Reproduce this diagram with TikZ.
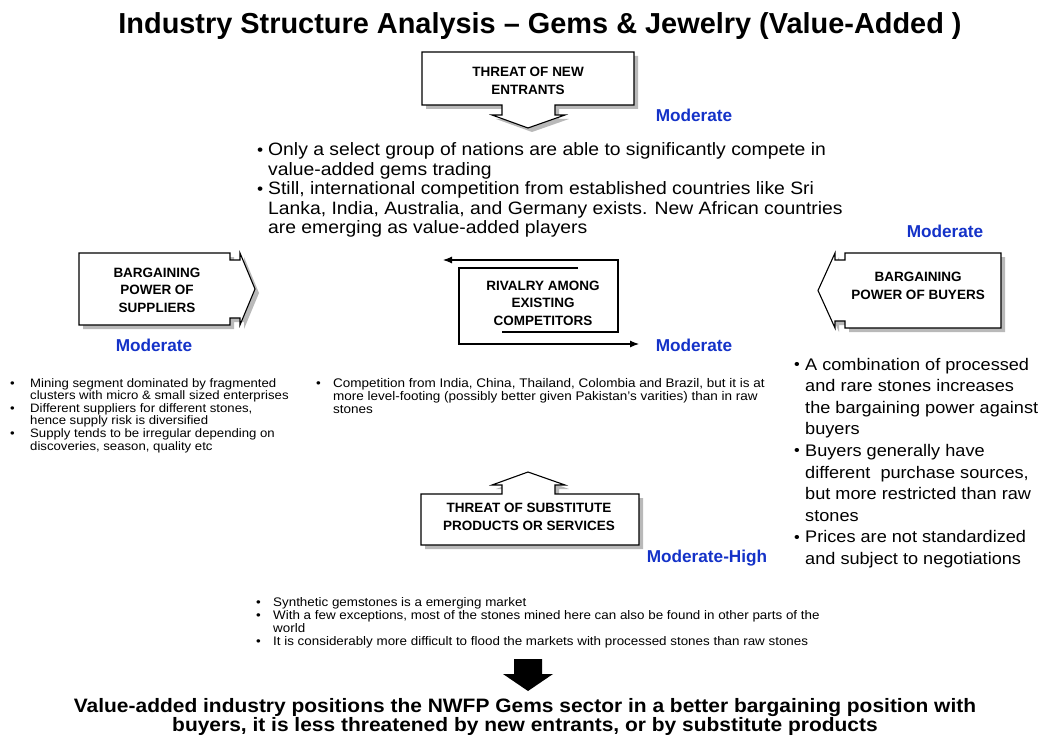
\documentclass[tikz,border=0pt]{standalone}
\usepackage{fontspec}
\usepackage{graphicx}
\setmainfont{Liberation Sans}
\newfontfamily\notefont[FakeStretch=1.08]{Liberation Sans}
\usetikzlibrary{arrows.meta}
\definecolor{ratingblue}{RGB}{20,50,200}
\definecolor{shadowgray}{RGB}{185,185,185}
% bullets with fixed hang (slightly reduced dot for the larger note text), and the continuation indent
\newcommand\bulitem[1]{\makebox[#1][l]{\raisebox{0.03em}{\scalebox{0.9}{\textbullet}}}}
\newcommand\bulsmall[1]{\makebox[#1][l]{\textbullet}}
\newcommand\bulcont[1]{\hspace*{#1}}
\begin{document}
\begin{tikzpicture}[x=1pt,y=-1pt,
  forcebox/.style={draw=black,line width=1.1pt,fill=white,line join=miter},
  forceshadow/.style={fill=shadowgray,draw=none},
  forcelabel/.style={font=\bfseries\fontsize{13.5}{17.5}\selectfont,align=center,inner sep=0},
  rating/.style={font=\bfseries\fontsize{17.2}{19}\selectfont,text=ratingblue,inner sep=0},
  notes/.style={anchor=base west,inner sep=0},
  rivalarrow/.style={line width=1.1pt,-{Latex[length=9pt,width=7pt]}}]
\useasboundingbox (0,0) rectangle (1049,738);

% title
\node[font=\bfseries\fontsize{28.9}{32}\selectfont,inner sep=0] (title) at (540,26) {Industry Structure Analysis – Gems \& Jewelry (Value-Added )};

% threat of new entrants: callout pointing down
\foreach \s/\st in {4/forceshadow,0/forcebox}{
  \path[\st,shift={(\s,\s)}] (422,52) -- (634,52) -- (634,105) -- (555,105) -- (555,115) -- (565,115)
    -- (528,128) -- (492,115) -- (502,115) -- (502,105) -- (422,105) -- cycle;}
\node[forcelabel] (entrants) at (528,81) {THREAT OF NEW\\ENTRANTS};
\node[rating] (entrantsrate) at (694,115) {Moderate};

% bargaining power of suppliers: callout pointing right
\foreach \s/\st in {4/forceshadow,0/forcebox}{
  \path[\st,shift={(\s,\s)}] (79,253) -- (230,253) -- (230,260) -- (240,260) -- (240,253) -- (255,289)
    -- (240,325) -- (240,318) -- (230,318) -- (230,325) -- (79,325) -- cycle;}
\node[forcelabel] (suppliers) at (157,290) {BARGAINING\\POWER OF\\SUPPLIERS};
\node[rating] (suppliersrate) at (154,345) {Moderate};

% bargaining power of buyers: callout pointing left
\foreach \s/\st in {4/forceshadow,0/forcebox}{
  \path[\st,shift={(\s,\s)}] (1001,253) -- (1001,328) -- (845,328) -- (845,321) -- (835,321) -- (835,328)
    -- (818,290.5) -- (835,253) -- (835,260) -- (845,260) -- (845,253) -- cycle;}
\node[forcelabel] (buyers) at (918,286) {BARGAINING\\POWER OF BUYERS};
\node[rating] (buyersrate) at (945,231) {Moderate};

% rivalry among existing competitors: two interlocking arrows
\coordinate (rivOutStart) at (502,332);
\coordinate (rivOutEnd) at (443,260);
\coordinate (rivInStart) at (578,268);
\coordinate (rivInEnd) at (639,344);
\draw[rivalarrow] (rivOutStart) -- (618,332) -- (618,260) -- (rivOutEnd);
\draw[rivalarrow] (rivInStart) -- (459,268) -- (459,344) -- (rivInEnd);
\node[forcelabel] (rivalry) at (543,303) {RIVALRY AMONG\\EXISTING\\COMPETITORS};
\node[rating] (rivalryrate) at (694,345) {Moderate};

% threat of substitutes: callout pointing up
\foreach \s/\st in {4/forceshadow,0/forcebox}{
  \path[\st,shift={(\s,\s)}] (421,494) -- (502,494) -- (502,485) -- (492,485) -- (528,472) -- (565,485)
    -- (555,485) -- (555,494) -- (639,494) -- (639,545) -- (421,545) -- cycle;}
\node[forcelabel] (substitutes) at (529,517) {THREAT OF SUBSTITUTE\\PRODUCTS OR SERVICES};
\node[rating] (substitutesrate) at (707,558) {Moderate-High};

% notes on each force
\node[notes] (entrantsnotes) at (257,156) {\parbox[t]{680pt}{\notefont\fontsize{17.9}{19.5}\selectfont
  \bulitem{11pt}Only a select group of nations are able to significantly compete in\\
  \bulcont{11pt}value-added gems trading\\
  \bulitem{11pt}Still, international competition from established countries like Sri\\
  \bulcont{11pt}Lanka, India, Australia, and Germany exists. New African countries\\
  \bulcont{11pt}are emerging as value-added players}};

\node[notes] (buyersnotes) at (794,370) {\parbox[t]{260pt}{\notefont\fontsize{16.8}{21.6}\selectfont
  \bulitem{11pt}A combination of processed\\
  \bulcont{11pt}and rare stones increases\\
  \bulcont{11pt}the bargaining power against\\
  \bulcont{11pt}buyers\\
  \bulitem{11pt}Buyers generally have\\
  \bulcont{11pt}different\ \ purchase sources,\\
  \bulcont{11pt}but more restricted than raw\\
  \bulcont{11pt}stones\\
  \bulitem{11pt}Prices are not standardized\\
  \bulcont{11pt}and subject to negotiations}};

\node[notes] (suppliersnotes) at (10,387) {\parbox[t]{320pt}{\notefont\fontsize{12.2}{12.6}\selectfont
  \bulsmall{20pt}Mining segment dominated by fragmented\\
  \bulcont{20pt}clusters with micro \& small sized enterprises\\
  \bulsmall{20pt}Different suppliers for different stones,\\
  \bulcont{20pt}hence supply risk is diversified\\
  \bulsmall{20pt}Supply tends to be irregular depending on\\
  \bulcont{20pt}discoveries, season, quality etc}};

\node[notes] (rivalrynotes) at (316,387) {\parbox[t]{520pt}{\notefont\fontsize{12.5}{13}\selectfont
  \bulsmall{17pt}Competition from India, China, Thailand, Colombia and Brazil, but it is at\\
  \bulcont{17pt}more level-footing (possibly better given Pakistan’s varities) than in raw\\
  \bulcont{17pt}stones}};

\node[notes] (substitutesnotes) at (256,606) {\parbox[t]{680pt}{\notefont\fontsize{12.4}{13}\selectfont
  \bulsmall{17pt}Synthetic gemstones is a emerging market\\
  \bulsmall{17pt}With a few exceptions, most of the stones mined here can also be found in other parts of the\\
  \bulcont{17pt}world\\
  \bulsmall{17pt}It is considerably more difficult to flood the markets with processed stones than raw stones}};

% conclusion arrow and statement
\path[fill=black] (514,659) -- (542,659) -- (542,674) -- (553,674) -- (528,691) -- (503,674) -- (514,674) -- cycle;
\node[font=\notefont\bfseries\fontsize{19.4}{19.5}\selectfont,align=center,inner sep=0] (conclusion) at (525,717)
  {Value-added industry positions the NWFP Gems sector in a better bargaining position with\\
   buyers, it is less threatened by new entrants, or by substitute products};
\end{tikzpicture}
\end{document}
